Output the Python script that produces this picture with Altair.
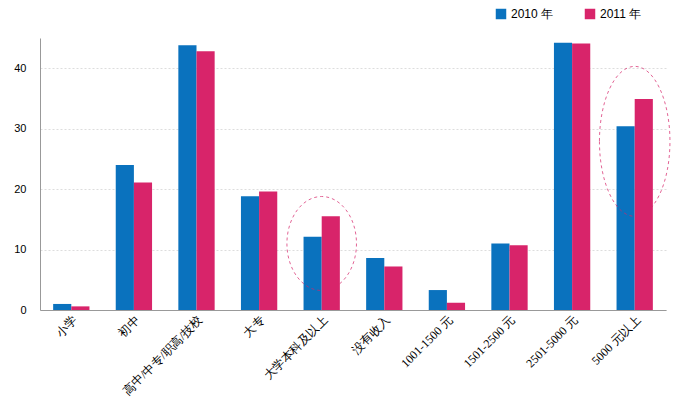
import altair as alt
import pandas as pd

categories = ["小学", "初中", "高中/中专/职高/技校", "大专", "大学本科及以上",
              "没有收入", "1001-1500 元", "1501-2500 元", "2501-5000 元", "5000 元以上"]
v2010 = [1.0, 24.0, 43.8, 18.8, 12.1, 8.6, 3.3, 11.0, 44.2, 30.4]
v2011 = [0.6, 21.1, 42.8, 19.6, 15.5, 7.2, 1.2, 10.7, 44.1, 34.9]
years = ["2010 年", "2011 年"]

rows = []
for c, a, b in zip(categories, v2010, v2011):
    rows.append({"cat": c, "year": years[0], "v": a})
    rows.append({"cat": c, "year": years[1], "v": b})
df = pd.DataFrame(rows)

font = "Liberation Serif"
x = alt.X("cat:N", sort=categories, title=None,
          scale=alt.Scale(paddingInner=0.42, paddingOuter=0.21),
          axis=alt.Axis(labelAngle=-45, labelFontSize=12, labelFont=font,
                        labelColor="#000", domainColor="#999", ticks=False,
                        grid=False, labelPadding=4, labelLimit=200))
bars = alt.Chart(df).mark_bar().encode(
    x=x,
    xOffset=alt.XOffset("year:N", sort=years),
    y=alt.Y("v:Q", title=None, scale=alt.Scale(domain=[0, 45]),
            axis=alt.Axis(values=list(range(0, 46, 5)), gridDash=[2, 2], gridColor="#ddd",
                          domainColor="#999", tickColor="#999", labelColor="#000",
                          labelFont="Liberation Sans", labelOverlap=False,
                          labelFontSize=11, labelPadding=14, tickSize=0)),
    color=alt.Color("year:N", sort=years, title=None,
                    scale=alt.Scale(range=["#0a72be", "#d8246a"]),
                    legend=alt.Legend(orient="none", legendX=455, legendY=-30,
                                      direction="horizontal", symbolType="square",
                                      symbolSize=110, labelFontSize=12, columnPadding=30,
                                      labelFont="Liberation Sans")),
)

ell1 = pd.DataFrame({"cat": ["大学本科及以上"], "v": [11.0]})
ell2 = pd.DataFrame({"cat": ["5000 元以上"], "v": [27.9]})
e1 = alt.Chart(ell1).mark_point(
    shape="M -0.74 0 A 0.74 1 0 1 0 0.74 0 A 0.74 1 0 1 0 -0.74 0",
    size=8836, stroke="#d8246a", strokeDash=[3, 3], strokeWidth=1, filled=False
).encode(x=alt.X("cat:N", sort=categories), y="v:Q")
e2 = alt.Chart(ell2).mark_point(
    shape="M -0.47 0 A 0.47 1 0 1 0 0.47 0 A 0.47 1 0 1 0 -0.47 0",
    size=22500, stroke="#d8246a", strokeDash=[3, 3], strokeWidth=1, filled=False
).encode(x=alt.X("cat:N", sort=categories), y="v:Q")

chart = alt.layer(bars, e1, e2).properties(
    width=626, height=272, padding={"left": 5, "top": 0, "right": 5, "bottom": 0}
).configure(font="DejaVu Sans").configure_view(stroke=None)

chart.save("out.html", embed_options={"renderer": "svg", "actions": False})
